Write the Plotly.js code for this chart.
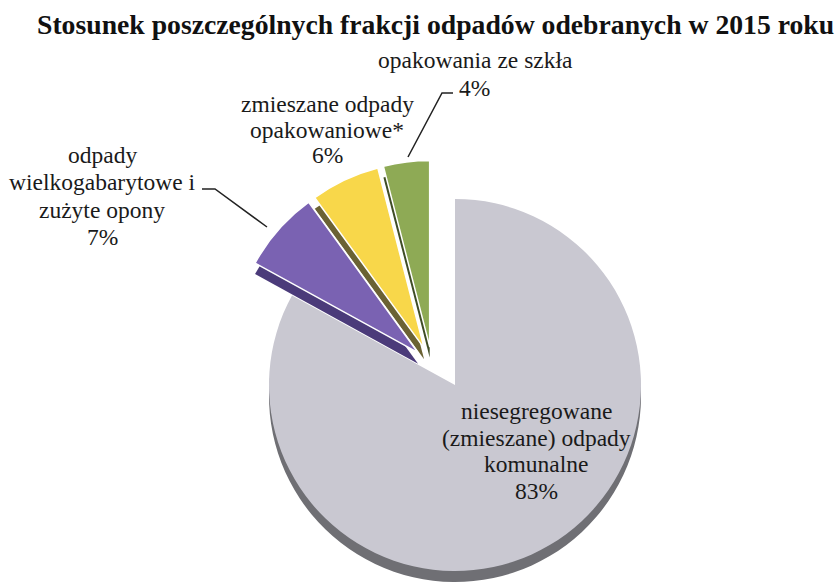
<!DOCTYPE html>
<html><head><meta charset="utf-8">
<script src="https://cdn.plot.ly/plotly-3.0.1.min.js"></script>
<style>html,body{margin:0;padding:0;background:#fff}</style></head>
<body>
<div id="chart" style="width:836px;height:587px"></div>
<script>
const titleText = 'Stosunek poszczególnych frakcji odpadów odebranych w 2015 roku';
const categories = ['niesegregowane (zmieszane) odpady komunalne', 'odpady wielkogabarytowe i zużyte opony', 'zmieszane odpady opakowaniowe*', 'opakowania ze szkła'];
const values = [83, 7, 6, 4];
const labelLines = [
  ['niesegregowane', '(zmieszane) odpady', 'komunalne'],
  ['odpady', 'wielkogabarytowe i', 'zużyte opony'],
  ['zmieszane odpady', 'opakowaniowe*'],
  ['opakowania ze szkła']
];
const topColors = ['#c9c8d1', '#7a62b2', '#f8d74a', '#8eaa55'];
const sideColors = ['#6f6f74', '#4b3b7a', '#6b6234', '#3f4d26'];

const W = 836, H = 587;
const px = x => x / W;
const py = y => 1 - y / H;
function dom(cx, cy, half) {
  return {x: [(cx - half) / W, (cx + half) / W], y: [(H - cy - half) / H, (H - cy + half) / H]};
}
const CLEAR = 'rgba(0,0,0,0)';
const R = 186, PULL = 0.1;
const bigOnly = (arr) => arr.map((c, i) => i === 0 ? c : CLEAR);
const smallOnly = (arr) => arr.map((c, i) => i === 0 ? CLEAR : c);
const base = {type: 'pie', values: values, labels: categories, sort: false, direction: 'clockwise', rotation: 0, textinfo: 'none', hoverinfo: 'label+percent', showlegend: false};

const traces = [
  Object.assign({}, base, {domain: dom(455, 396, R), marker: {colors: bigOnly(sideColors), line: {width: 0}}}),
  Object.assign({}, base, {domain: dom(432, 376, R * (1 + PULL)), pull: [0, PULL, PULL, PULL], marker: {colors: smallOnly(sideColors), line: {width: 0}}}),
  Object.assign({}, base, {domain: dom(455, 385, R), marker: {colors: bigOnly(topColors), line: {width: 0}}}),
  Object.assign({}, base, {domain: dom(432, 365, R * (1 + PULL)), pull: [0, PULL, PULL, PULL], marker: {colors: smallOnly(topColors), line: {color: smallOnly(['#fff','#ffffff','#ffffff','#ffffff']), width: 1.5}}})
];

const SERIF = 'Liberation Serif';
const mkFont = () => ({family: SERIF, size: 23.5, color: '#1a1a1a'});
const pct = v => v + '%';
const ann = (x, y, text, align) => ({x: px(x), y: py(y), xref: 'paper', yref: 'paper', text: text, showarrow: false, font: mkFont(), align: align || 'center', xanchor: align === 'left' ? 'left' : 'center', yanchor: 'middle'});
// one annotation per text line, stacked with a fixed line step
const block = (x, yFirst, step, lines) => lines.map((t, k) => ann(x, yFirst + k * step, t));
const annotations = [].concat(
  block(536, 411, 26.7, labelLines[0].concat([pct(values[0])])),
  block(102, 155, 27.3, labelLines[1].concat([pct(values[1])])),
  block(327, 104, 25.5, labelLines[2].concat([pct(values[2])])),
  block(475, 60, 27, labelLines[3]),
  [ann(457, 88, pct(values[3]), 'left'),
   {x: px(435), y: py(24), xref: 'paper', yref: 'paper', showarrow: false, text: '<b>' + titleText + '</b>', font: {family: SERIF, size: 27.7, color: '#111'}, xanchor: 'center', yanchor: 'middle'}]
);
const path = pts => pts.map((p, i) => (i ? 'L ' : 'M ') + px(p[0]) + ' ' + py(p[1])).join(' ');
const shapes = [
  {type: 'path', xref: 'paper', yref: 'paper', path: path([[408, 157], [442, 93], [453, 93]]), line: {color: '#222', width: 1.5}},
  {type: 'path', xref: 'paper', yref: 'paper', path: path([[202, 189], [215, 189], [267, 227]]), line: {color: '#222', width: 1.5}}
];

Plotly.newPlot('chart', traces, {
  width: W, height: H, margin: {l: 0, r: 0, t: 0, b: 0},
  paper_bgcolor: '#fff', annotations: annotations, shapes: shapes,
  font: {family: SERIF}
}, {displayModeBar: false, staticPlot: true});
</script>
</body></html>
